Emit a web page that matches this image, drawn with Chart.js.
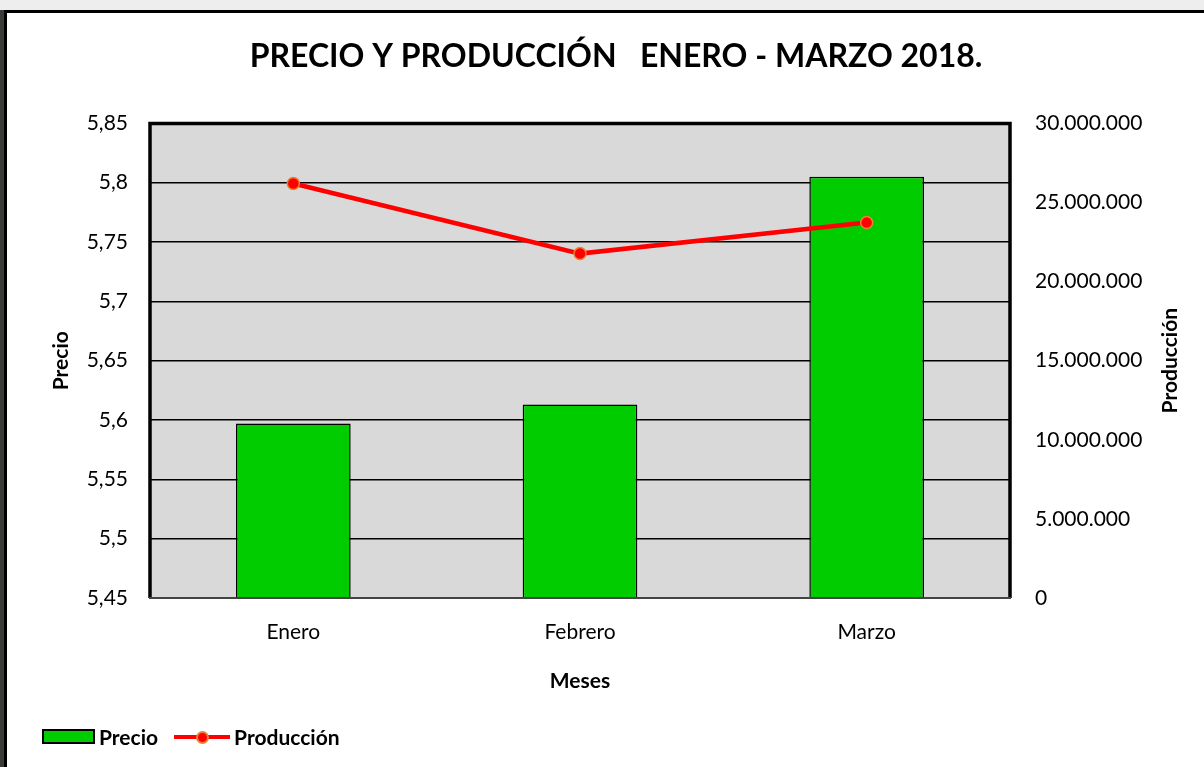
<!DOCTYPE html>
<html>
<head>
<meta charset="utf-8">
<title>Precio y Producción Enero - Marzo 2018</title>
<script src="https://cdn.jsdelivr.net/npm/chart.js"></script>
<style>
  html, body { margin: 0; padding: 0; background: #eeeeee; }
  #wrap { position: relative; width: 1204px; height: 767px; overflow: hidden; }
  #strip { position: absolute; left: 0; top: 10px; width: 5px; height: 757px; background: #3b3b37; }
  #frame { position: absolute; left: 4px; top: 10px; width: 1200px; height: 757px; background: #fff;
           border-left: 3px solid #000; border-top: 3px solid #000; box-sizing: border-box; }
  #chart { position: absolute; left: 0; top: 0; }
  #legend { position: absolute; left: 42px; top: 724px; display: flex; align-items: center;
            font: bold 21px Lato, sans-serif; color: #000; }
  #legend .item { display: flex; align-items: center; margin-right: 16px; }
  #legend .box { width: 49px; height: 11px; border: 2px solid #000; margin-right: 4px; }
  #legend .line { position: relative; width: 56px; height: 4px; margin-right: 4px; }
  #legend .dot { position: absolute; left: 22px; top: -4px; width: 9px; height: 9px; border-radius: 50%; border: 2px solid #f08030; }
</style>
</head>
<body>
<div id="wrap">
  <div id="strip"></div>
  <div id="frame"></div>
  <canvas id="chart" width="1204" height="767"></canvas>
  <div id="legend"></div>
</div>
<script>
// data
const meses = ['Enero', 'Febrero', 'Marzo'];
const precio = [5.597, 5.613, 5.805];
const produccion = [26200000, 21770000, 23730000];

const precioTicks = [5.45, 5.5, 5.55, 5.6, 5.65, 5.7, 5.75, 5.8, 5.85];
const produccionTicks = [0, 5000000, 10000000, 15000000, 20000000, 25000000, 30000000];

const green = '#00cc00';
const red = '#ff0000';

function fmtPrecio(v) {
  return String(Math.round(v * 100) / 100).replace('.', ',');
}
function fmtMiles(v) {
  return String(Math.round(v)).replace(/\B(?=(\d{3})+(?!\d))/g, '.');
}

// gray plot background + frame round the plot
const plotFrame = {
  id: 'plotFrame',
  beforeDraw(chart) {
    const { ctx, chartArea: a } = chart;
    ctx.save();
    ctx.fillStyle = '#d9d9d9';
    ctx.fillRect(a.left, a.top, a.right - a.left, a.bottom - a.top);
    ctx.restore();
  },
  afterDraw(chart) {
    const { ctx, chartArea: a } = chart;
    ctx.save();
    ctx.strokeStyle = '#000';
    ctx.lineWidth = 3.5;
    ctx.beginPath();
    ctx.moveTo(a.left, a.bottom);
    ctx.lineTo(a.left, a.top);
    ctx.lineTo(a.right, a.top);
    ctx.lineTo(a.right, a.bottom);
    ctx.stroke();
    ctx.strokeStyle = '#444';
    ctx.lineWidth = 2;
    ctx.beginPath();
    ctx.moveTo(a.left - 1, a.bottom);
    ctx.lineTo(a.right + 1, a.bottom);
    ctx.stroke();

    // right axis title reads bottom to top, like the left one
    const y1 = chart.scales.y1;
    ctx.translate(1170, (a.top + a.bottom) / 2);
    ctx.rotate(-Math.PI / 2);
    ctx.fillStyle = '#000';
    ctx.font = 'bold 21px Lato, sans-serif';
    ctx.textAlign = 'center';
    ctx.textBaseline = 'middle';
    ctx.fillText(y1.options.ticks.axisTitle, 0, 0);
    ctx.restore();
  }
};

Chart.defaults.font.family = 'Lato, sans-serif';
Chart.defaults.color = '#000';

const chart = new Chart(document.getElementById('chart'), {
  type: 'bar',
  data: {
    labels: meses,
    datasets: [
      {
        type: 'line',
        label: 'Producción',
        data: produccion,
        yAxisID: 'y1',
        borderColor: red,
        borderWidth: 4.5,
        backgroundColor: red,
        pointRadius: 6,
        pointBorderColor: '#f08030',
        pointBorderWidth: 1.5,
        pointBackgroundColor: red,
        tension: 0,
        order: 1
      },
      {
        label: 'Precio',
        data: precio,
        yAxisID: 'y',
        backgroundColor: green,
        borderColor: '#000',
        borderWidth: 1.5,
        borderSkipped: false,
        barPercentage: 0.4,
        categoryPercentage: 1,
        order: 2
      }
    ]
  },
  options: {
    responsive: false,
    animation: false,
    layout: { padding: { left: 45, right: 17, top: 0, bottom: 69 } },
    plugins: {
      legend: { display: false },
      tooltip: { enabled: false },
      title: {
        display: true,
        text: 'PRECIO Y PRODUCCIÓN   ENERO - MARZO 2018.',
        font: { size: 32, weight: 'bold' },
        color: '#000',
        padding: { top: 37, bottom: 48 }
      }
    },
    scales: {
      x: {
        grid: { display: false },
        border: { display: false },
        ticks: { font: { size: 21 }, padding: 14 },
        title: { display: true, text: 'Meses', font: { size: 21, weight: 'bold' } },
        afterFit: s => { s.height = 100; }
      },
      y: {
        position: 'left',
        min: 5.45,
        max: 5.85,
        afterBuildTicks: s => { s.ticks = precioTicks.map(v => ({ value: v })); },
        grid: { color: '#000', lineWidth: 1.5, drawTicks: false },
        border: { display: false },
        ticks: { font: { size: 21 }, padding: 22, callback: v => fmtPrecio(v) },
        title: { display: true, text: 'Precio', font: { size: 21, weight: 'bold' } },
        afterFit: s => { s.width = 105; }
      },
      y1: {
        position: 'right',
        min: 0,
        max: 30000000,
        afterBuildTicks: s => { s.ticks = produccionTicks.map(v => ({ value: v })); },
        grid: { display: false, drawTicks: false },
        border: { display: false },
        ticks: { font: { size: 21 }, padding: 25, callback: v => fmtMiles(v), axisTitle: 'Producción' },
        title: { display: false },
        afterFit: s => { s.width = 177; }
      }
    }
  },
  plugins: [plotFrame]
});

// legend built from the datasets
const legend = document.getElementById('legend');
chart.data.datasets.slice().reverse().forEach(ds => {
  const item = document.createElement('div');
  item.className = 'item';
  if (ds.type === 'line') {
    item.innerHTML = '<div class="line" style="background:' + ds.borderColor + '"><div class="dot" style="background:' +
      ds.pointBackgroundColor + ';border-color:' + ds.pointBorderColor + '"></div></div>';
  } else {
    item.innerHTML = '<div class="box" style="background:' + ds.backgroundColor + '"></div>';
  }
  const t = document.createElement('span');
  t.textContent = ds.label;
  item.appendChild(t);
  legend.appendChild(item);
});
</script>
</body>
</html>
